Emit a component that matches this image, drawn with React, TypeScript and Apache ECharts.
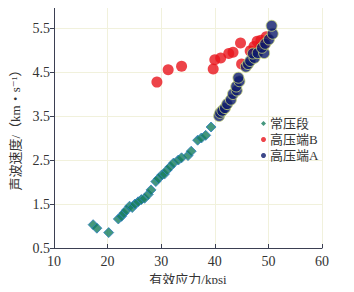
import React, { useEffect, useRef } from "react";
import * as echarts from "echarts";

const seriesNames = ["常压段", "高压端B", "高压端A"];

const normalPressure: [number, number][] = [
  [17.3, 1.03], [18.0, 0.95], [20.2, 0.85], [22.0, 1.16], [22.6, 1.22], [23.0, 1.29],
  [23.5, 1.36], [24.1, 1.45], [24.6, 1.42], [25.1, 1.5], [25.7, 1.55], [26.3, 1.6],
  [26.9, 1.63], [27.6, 1.72], [28.1, 1.82], [29.0, 2.01], [29.5, 2.08], [30.1, 2.16],
  [30.6, 2.18], [31.1, 2.27], [31.7, 2.35], [32.3, 2.43], [33.2, 2.5], [33.8, 2.55],
  [35.0, 2.6], [35.6, 2.7], [36.8, 2.95], [37.5, 3.0], [38.3, 3.06], [39.3, 3.25],
];

const highB: [number, number][] = [
  [29.2, 4.27], [31.3, 4.55], [33.8, 4.63], [39.7, 4.57], [40.0, 4.78], [41.1, 4.82],
  [42.6, 4.92], [43.4, 4.95], [45.0, 4.68], [44.8, 5.16], [46.6, 4.98], [47.3, 5.08],
  [47.9, 5.2], [48.6, 5.22], [49.6, 5.3], [49.2, 5.12], [48.2, 5.0],
];

const highA: [number, number][] = [
  [40.8, 3.5], [41.0, 3.57], [41.4, 3.62], [41.9, 3.68], [42.3, 3.77], [43.0, 3.87],
  [43.4, 4.0], [44.1, 4.08], [44.0, 4.17], [44.6, 4.29], [44.4, 4.37], [45.8, 4.62],
  [46.2, 4.68], [46.6, 4.75], [47.4, 4.82], [47.1, 4.92], [48.0, 4.93], [49.2, 4.93],
  [48.8, 5.05], [49.4, 5.14], [50.1, 5.24], [50.8, 5.37], [50.6, 5.55],
];

const xTicks = [10, 20, 30, 40, 50, 60];
const yTicks = [0.5, 1.5, 2.5, 3.5, 4.5, 5.5];

const FONT = "'Liberation Serif', 'DejaVu Serif', 'Noto Sans CJK SC', serif";

export default function App() {
  const ref = useRef<HTMLDivElement>(null);
  useEffect(() => {
    if (!ref.current) return;
    const chart = echarts.init(ref.current, undefined, { renderer: "svg" });
    const axisColor = "#3b3f52";
    const gridColor = "#f1f1dc";
    chart.setOption({
      animation: false,
      backgroundColor: "#ffffff",
      textStyle: { fontFamily: FONT },
      grid: { left: 54, right: 32, top: 6, bottom: 44, containLabel: false },
      legend: {
        orient: "vertical",
        left: 256,
        top: 112,
        itemWidth: 5,
        itemHeight: 5,
        itemGap: 3,
        itemStyle: { borderWidth: 0 },
        data: [
          { name: seriesNames[0], icon: "diamond" },
          { name: seriesNames[1], icon: "circle" },
          { name: seriesNames[2], icon: "circle" },
        ],
        textStyle: { fontFamily: FONT, fontSize: 13, color: "#333", padding: [0, 0, 0, -1] },
      },
      xAxis: {
        type: "value",
        min: 10,
        max: 60,
        interval: 10,
        name: "有效应力/kpsi",
        nameLocation: "middle",
        nameGap: 25,
        nameTextStyle: { fontFamily: FONT, fontSize: 13, color: "#333" },
        axisLine: { show: true, lineStyle: { color: axisColor, width: 1 } },
        axisTick: { show: true, inside: true, length: 4, lineStyle: { color: axisColor }, customValues: xTicks },
        axisLabel: { fontFamily: FONT, fontSize: 14, color: "#333", margin: 6, customValues: xTicks },
        splitLine: { show: true, lineStyle: { color: gridColor, width: 1 } },
      },
      yAxis: {
        type: "value",
        min: 0.5,
        max: 6,
        interval: 1,
        name: "声波速度/（km・s⁻¹）",
        nameLocation: "middle",
        nameGap: 23,
        nameTextStyle: { fontFamily: FONT, fontSize: 13, color: "#333" },
        axisLine: { show: true, lineStyle: { color: axisColor, width: 1 } },
        axisTick: { show: true, inside: false, length: 4, lineStyle: { color: axisColor }, customValues: yTicks },
        axisLabel: { fontFamily: FONT, fontSize: 14, color: "#333", margin: 4, customValues: yTicks },
        splitLine: { show: true, lineStyle: { color: gridColor, width: 1 } },
      },
      series: [
        {
          name: seriesNames[0],
          type: "scatter",
          symbol: "diamond",
          symbolSize: 10,
          data: normalPressure,
          itemStyle: { color: "#157d5c", borderColor: "#2f7fc0", borderWidth: 1 },
        },
        {
          name: seriesNames[1],
          type: "scatter",
          symbol: "circle",
          symbolSize: 11,
          data: highB,
          itemStyle: { color: "#e8141c" },
        },
        {
          name: seriesNames[2],
          type: "scatter",
          symbol: "circle",
          symbolSize: 11,
          data: highA,
          itemStyle: { color: "#0d1a6c", borderColor: "#c9d77a", borderWidth: 1 },
        },
      ],
    });
    return () => chart.dispose();
  }, []);
  return <div ref={ref} style={{ width: 354, height: 292, margin: -8 }} />;
}
